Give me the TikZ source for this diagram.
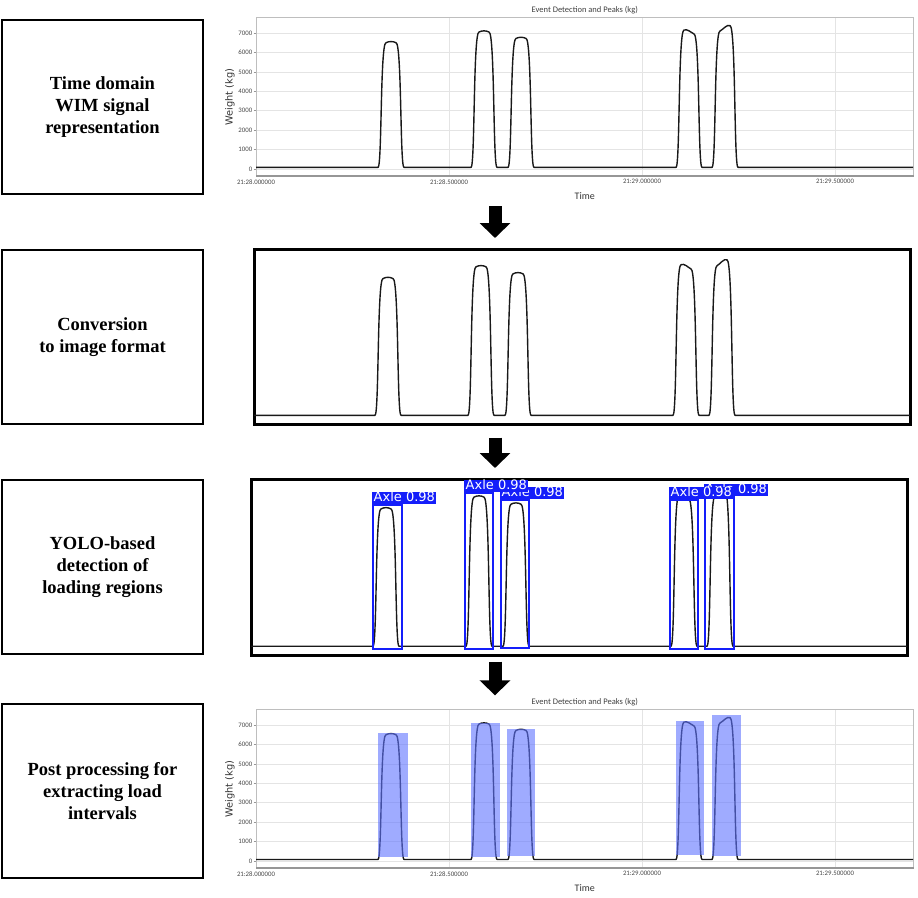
\documentclass[tikz,border=0pt]{standalone}
\usepackage{fontspec}
\setmainfont{Liberation Serif}
\newfontfamily\plotfont{Carlito}
\newfontfamily\axisfont{DejaVu Sans}
\usepackage{xcolor}
\usepackage{tikz}
\usetikzlibrary{positioning, arrows.meta}

\definecolor{yoloblue}{RGB}{20,30,250}
\definecolor{barblue}{RGB}{95,115,255}
\definecolor{gridgray}{RGB}{228,228,228}
\definecolor{framegray}{RGB}{190,190,190}
\definecolor{spinegray}{RGB}{150,150,150}
\definecolor{tickgray}{RGB}{70,70,70}

% one axle bump: centre, left top, right top (1000 kg)
\newcommand{\bump}[3]{-- (#1-13,0.08) .. controls (#1-9,0.08) and (#1-10.8,#2) .. (#1-5,#2)
  .. controls (#1-2,#2+0.08) and (#1+2,#3+0.08) .. (#1+5,#3)
  .. controls (#1+10.8,#3) and (#1+9,0.08) .. (#1+13,0.08)}
% whole WIM signal from x=#1 to x=#2
\newcommand{\wimtrace}[2]{(#1,0.08) \bump{391}{6.5}{6.5} \bump{484}{7.05}{7.05} \bump{521}{6.72}{6.72}
  \bump{689}{7.15}{6.95} \bump{725}{7.1}{7.38} -- (#2,0.08)}

% axes, grid and labels of a weight plot: zero line y, name
\newcommand{\plotaxes}[2]{%
  \begin{scope}[shift={(0,#1)}, yscale=-19.43]
    \foreach \k in {0,...,7} {
      \pgfmathtruncatemacro{\kg}{1000*\k}
      \draw[gridline] (256,\k) -- (913,\k);
      \draw[tickmark] (253.5,\k) -- (256,\k);
      \node[ticklabel, anchor=east] at (253,\k) {\kg};
    }
    \foreach \x/\stamp in {256/21:28.000000, 449/21:28.500000, 642/21:29.000000, 835/21:29.500000} {
      \draw[gridline] (\x,-0.36) -- (\x,7.78);
      \node[ticklabel, anchor=north] at (\x,-0.5) {\stamp};
    }
    \node[plotframe, anchor=south west] (#2) at (256,-0.36) {};
    \draw[spine] (#2.south west) -- (#2.south east);
  \end{scope}
  \node[plottitle, above=2pt of #2] (#2-title) {Event Detection and Peaks (kg)};
  \node[axislabel, rotate=90] (#2-ylabel) at (230,#1-72) {Weight (kg)};
  \node[plotlabel, below=15pt of #2] (#2-time) {Time};
}

\begin{document}
\begin{tikzpicture}[x=1pt, y=-1pt,
    stage/.style = {draw, line width=2pt, minimum width=201pt, minimum height=174pt,
      align=center, font=\fontsize{18.5}{22}\selectfont\bfseries},
    imgframe/.style = {draw, line width=2.5pt, minimum width=656pt, inner sep=0pt},
    plotframe/.style = {draw=framegray, line width=0.6pt, minimum width=657pt,
      minimum height=158pt, inner sep=0pt},
    gridline/.style = {draw=gridgray, line width=0.6pt},
    tickmark/.style = {draw=spinegray, line width=0.5pt},
    spine/.style = {draw=spinegray, line width=1.3pt},
    ticklabel/.style = {inner sep=0.6pt, text=tickgray, font=\plotfont\fontsize{6.8}{7}\selectfont},
    plottitle/.style = {inner sep=1pt, text=black!75, font=\plotfont\fontsize{8.5}{9}\selectfont},
    plotlabel/.style = {inner sep=1pt, text=black!80, font=\plotfont\fontsize{10}{11}\selectfont},
    axislabel/.style = {inner sep=1pt, text=black!80, font=\axisfont\fontsize{9.8}{10}\selectfont},
    trace/.style = {draw=black!90, line width=1.4pt, line join=round},
    yolobox/.style = {draw=yoloblue, line width=2pt, inner sep=0pt, anchor=north west},
    yololabel/.style = {fill=yoloblue, text=white, inner xsep=1.5pt, inner ysep=0.5pt,
      text height=9.5pt, text depth=1.5pt, anchor=south west,
      font=\axisfont\fontsize{13}{13}\selectfont},
    loadbar/.style = {fill=barblue, fill opacity=0.6},
    stagearrow/.style = {draw=black, line width=13pt, -{Triangle[width=30pt, length=15pt]}}
  ]
  \useasboundingbox (0,0) rectangle (918,897);

  % processing steps
  \node[stage, anchor=north west] (s1) at (1,19) {Time domain\\WIM signal\\representation};
  \node[stage, below=54pt of s1] (s2) {Conversion\\to image format};
  \node[stage, below=54pt of s2] (s3) {YOLO-based\\detection of\\loading regions};
  \node[stage, below=48pt of s3] (s4) {Post processing for\\extracting load\\intervals};

  % raw signal plot
  \plotaxes{169}{plotA}
  \begin{scope}[shift={(0,169)}, yscale=-19.43]
    \draw[trace] \wimtrace{256}{913};
  \end{scope}

  % signal as image
  \node[imgframe, minimum height=175pt, anchor=north west] (img) at (253,248) {};
  \begin{scope}[shift={(-3,417)}, yscale=-21.3]
    \draw[trace] \wimtrace{257}{913};
  \end{scope}

  % yolo detections
  \node[imgframe, minimum height=176pt, anchor=north west] (yolo) at (250,478) {};
  \begin{scope}[shift={(-5,648)}, yscale=-21.4]
    \draw[trace] \wimtrace{256}{912};
  \end{scope}
  \node[yolobox, minimum width=29pt, minimum height=144pt] (ax1) at (372,504) {};
  \node[yolobox, minimum width=28pt, minimum height=156pt] (ax2) at (464,492) {};
  \node[yolobox, minimum width=28pt, minimum height=148pt] (ax3) at (500,499) {};
  \node[yolobox, minimum width=28pt, minimum height=149pt] (ax4) at (669,499) {};
  \node[yolobox, minimum width=29pt, minimum height=152pt] (ax5) at (704,496) {};
  \node[yololabel] (ax1-tag) at (ax1.north west) {Axle 0.98};
  \node[yololabel] (ax3-tag) at (ax3.north west) {Axle 0.98};
  \node[yololabel] (ax2-tag) at (ax2.north west) {Axle 0.98};
  \node[yololabel] (ax5-tag) at (ax5.north west) {Axle 0.98};
  \node[yololabel] (ax4-tag) at (ax4.north west) {Axle 0.98};

  % load intervals
  \plotaxes{861}{plotB}
  \begin{scope}[shift={(0,861)}, yscale=-19.43]
    \draw[trace] \wimtrace{256}{913};
    \foreach \xa/\xb/\ya/\yb in {377.5/407.5/0.2/6.6, 471/500/0.2/7.1, 506.5/534.5/0.25/6.8,
        676/704/0.3/7.2, 711.5/740.5/0.25/7.5}
      \fill[loadbar] (\xa,\ya) rectangle (\xb,\yb);
  \end{scope}

  % flow arrows
  \coordinate (flow) at (495,0);
  \draw[stagearrow, shorten <=6pt, shorten >=10pt] (flow |- plotA-time.south) -- (flow |- img.north);
  \draw[stagearrow, shorten <=12pt, shorten >=10pt] (flow |- img.south) -- (flow |- yolo.north);
  \draw[stagearrow, shorten <=5pt, shorten >=2pt] (flow |- yolo.south) -- (flow |- plotB-title.north);
\end{tikzpicture}
\end{document}
